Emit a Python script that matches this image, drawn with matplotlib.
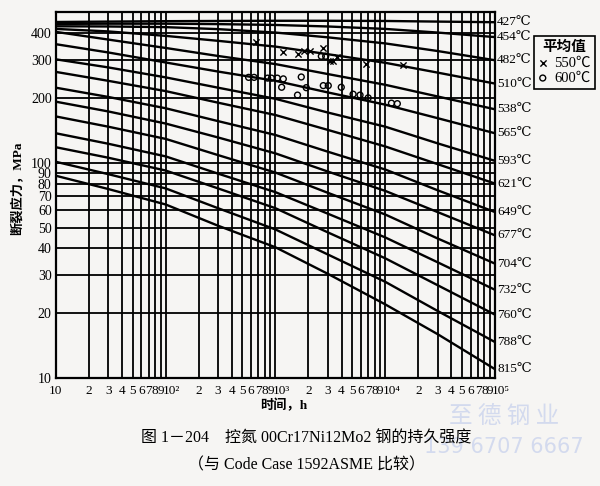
import matplotlib
matplotlib.use("Agg")
import matplotlib.pyplot as plt
from matplotlib.transforms import ScaledTranslation

plt.rcParams['font.family'] = ['Liberation Serif', 'DejaVu Serif', 'Noto Sans CJK SC']
CJK = ['Liberation Serif', 'Noto Sans CJK SC', 'DejaVu Sans']

hours = [10, 30, 100, 300, 1000, 3000, 1e4, 3e4, 1e5]

# rupture stress (MPa) per temperature curve (Code Case 1592)
s427 = [450, 452, 454, 455, 456, 456, 455, 452, 449]
s454 = [441, 442, 442, 440, 436, 429, 418, 402, 383]
s482 = [430, 429, 426, 417, 402, 382, 358, 330, 299]
s510 = [418, 407, 388, 368, 346, 319, 291, 262, 233]
s538 = [405, 373, 341, 313, 287, 258, 230, 203, 177]
s565 = [355, 325, 292, 265, 240, 212, 186, 161, 137]
s593 = [302, 277, 249, 223, 198, 171, 147, 123, 102]
s621 = [264, 240, 215, 190, 166.5, 142, 119, 98.5, 80]
s649 = [223, 202, 179, 156, 134.5, 112.5, 93, 74.5, 59]
s677 = [192, 173, 152, 131, 110.5, 91, 74, 59, 46]
s704 = [164, 147, 129, 108.5, 90, 72.5, 57.5, 44.5, 34]
s732 = [137, 122.5, 107, 89, 73, 58, 45, 34.5, 25.7]
s760 = [118, 105.5, 92, 76, 61.5, 47.5, 36, 27, 19.7]
s788 = [101, 88.5, 76, 61.5, 49, 37.5, 28, 20.5, 14.7]
s815 = [87, 75.5, 64, 51, 40.5, 30.5, 22, 16, 11]

temps = [427, 454, 482, 510, 538, 565, 593, 621, 649, 677, 704, 732, 760, 788, 815]
curves = [s427, s454, s482, s510, s538, s565, s593, s621, s649, s677,
          s704, s732, s760, s788, s815]

# measured averages, 00Cr17Ni12Mo2 (N controlled)
x550_t = [660, 1180, 1620, 1840, 2080, 2730, 3160, 3370, 3660, 6700, 14600]
x550_s = [363, 327, 321, 329, 329, 340, 296, 296, 309, 288, 284]
c600_t = [570, 640, 850, 920, 1040, 1180, 1140, 1720, 1910, 1590, 2620, 2870,
          2730, 3030, 3980, 5100, 5900, 7000, 11400, 12900]
c600_s = [249, 249, 247, 247, 247, 245, 224, 250, 223, 206, 312, 312,
          228, 228, 224, 208, 206, 200, 189, 188]

xtick_pos = [m * 10 ** e for e in range(1, 5) for m in range(1, 10)] + [1e5]
xtick_lab = []
for e in range(1, 5):
    xtick_lab.append({1: '10', 2: '10²', 3: '10³', 4: '10⁴'}[e])
    xtick_lab += [str(m) for m in range(2, 10)]
xtick_lab.append('10⁵')

ytick_pos = [10, 20, 30, 40, 50, 60, 70, 80, 90, 100, 200, 300, 400]
ytick_lab = [str(v) for v in ytick_pos]

bg = '#f6f5f3'
fig = plt.figure(figsize=(6, 4.86), dpi=100, facecolor=bg)
ax = fig.add_axes([0.093, 0.222, 0.732, 0.753])
ax.set_facecolor(bg)
ax.set_xscale('log')
ax.set_yscale('log')
ax.set_xlim(10, 1e5)
ax.set_ylim(10, 500)

ax.set_xticks(xtick_pos, xtick_lab)
ax.set_yticks(ytick_pos, ytick_lab)
ax.minorticks_off()
ax.tick_params(axis='x', length=0, pad=5, labelsize=9.5)
ax.tick_params(axis='y', length=0, pad=3, labelsize=10)
ax.grid(True, color='black', lw=1.3)
for sp in ax.spines.values():
    sp.set_linewidth(1.6)

# decade labels sit just right of their grid line, as on the print
for lab in ax.get_xticklabels():
    if lab.get_text().startswith('10') and lab.get_text() != '10':
        lab.set_horizontalalignment('left')
        lab.set_transform(lab.get_transform() + ScaledTranslation(-2 / 72, 0, fig.dpi_scale_trans))

for T, s in zip(temps, curves):
    ax.plot(hours, s, color='black', lw=1.7)
    ax.annotate(f'{T}℃', xy=(hours[-1], s[-1]), xytext=(1.5, 0),
                textcoords='offset points', va='center', ha='left',
                fontsize=9.5, annotation_clip=False)

h1 = ax.scatter(x550_t, x550_s, marker='x', s=20, c='black', lw=1.0, zorder=3)
h2 = ax.scatter(c600_t, c600_s, marker='o', s=18, facecolors='none',
                edgecolors='black', lw=1.0, zorder=3)

leg = fig.legend([h1, h2], ['550℃', '600℃'], title='平均值',
                 loc='upper left', bbox_to_anchor=(0.89, 0.925),
                 fancybox=False, edgecolor='black', facecolor=bg, framealpha=1,
                 handlelength=0.6, handletextpad=0.5, borderpad=0.3,
                 labelspacing=0.15, borderaxespad=0,
                 prop={'family': CJK, 'size': 10.5})
leg.get_title().set_family(CJK)
leg.get_title().set_fontweight('bold')
leg.get_title().set_fontsize(10.5)
leg.get_frame().set_linewidth(1.2)

fig.text(0.03, 0.613, '断裂应力，MPa', rotation=90, ha='center', va='center',
         family=CJK, fontsize=9.5, fontweight='bold')
fig.text(0.472, 0.165, '时间，h', ha='center', va='center',
         family=CJK, fontsize=9.5, fontweight='bold')

# watermark of the scanned page
fig.text(0.84, 0.144, '至 德 钢 业', ha='center', va='center', color='#d3daee',
         family=['Noto Sans CJK SC'], fontsize=17, zorder=0)
fig.text(0.84, 0.08, '139 6707 6667', ha='center', va='center', color='#d3daee',
         family=['DejaVu Sans'], fontsize=15, zorder=0)

fig.text(0.51, 0.097, '图 1－204　控氮 00Cr17Ni12Mo2 钢的持久强度', ha='center',
         va='center', family=CJK, fontsize=11.5)
fig.text(0.51, 0.043, '（与 Code Case 1592ASME 比较）', ha='center',
         va='center', family=CJK, fontsize=11.5)

fig.savefig('out.png', dpi=100, facecolor=bg)
